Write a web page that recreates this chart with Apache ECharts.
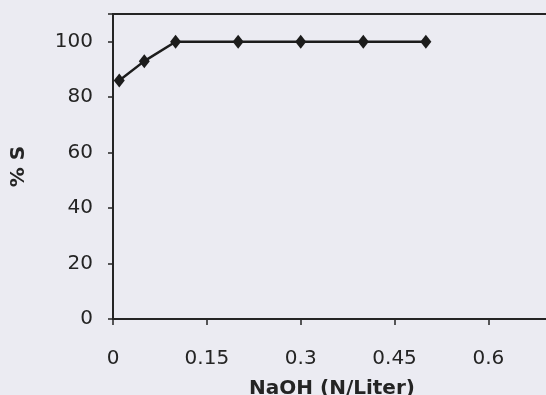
<!DOCTYPE html>
<html>
<head>
<meta charset="utf-8">
<title>NaOH stripping</title>
<script src="https://cdn.jsdelivr.net/npm/echarts@6/dist/echarts.min.js"></script>
<style>
  html, body { margin: 0; padding: 0; background: #ebebf2; }
  #chart { width: 546px; height: 395px; }
</style>
</head>
<body>
<div id="chart"></div>
<script>
// NaOH concentration (N/Liter) and stripping percentage
const naoh = [0.01, 0.05, 0.1, 0.2, 0.3, 0.4, 0.5];
const stripping = [86, 93, 100, 100, 100, 100, 100];

// Tick labels shown on each axis
const xTickLabels = ['0', '0.15', '0.3', '0.45', '0.6'];
const xTickValues = [0, 0.15, 0.3, 0.45, 0.6];
const yTickLabels = ['0', '20', '40', '60', '80', '100'];
const yTickValues = [0, 20, 40, 60, 80, 100];

const ink = '#242424';
const font = 'DejaVu Sans';

function labelFor(values, labels) {
  return function (v) {
    for (let i = 0; i < values.length; i++) {
      if (Math.abs(values[i] - v) < 1e-6) return labels[i];
    }
    return '';
  };
}

const chart = echarts.init(document.getElementById('chart'));
chart.setOption({
  backgroundColor: '#ebebf2',
  animation: false,
  // the plot frame runs on slightly past the right edge of the page
  grid: {
    left: 113, top: 14, width: 438, height: 305,
    outerBoundsMode: 'none', containLabel: false,
    show: true, borderColor: ink, borderWidth: 2, backgroundColor: 'transparent'
  },
  xAxis: {
    type: 'value', min: 0, max: 0.7, interval: 0.15,
    name: 'NaOH (N/Liter)', nameLocation: 'middle', nameGap: 60,
    nameTextStyle: { color: ink, fontFamily: font, fontWeight: 'bold', fontSize: 20 },
    splitLine: { show: false },
    axisLine: { show: true, lineStyle: { color: ink, width: 1.5 } },
    axisTick: { show: true, inside: false, length: 6, lineStyle: { color: ink, width: 1.5 } },
    axisLabel: { color: ink, fontFamily: font, fontSize: 20, margin: 30, formatter: labelFor(xTickValues, xTickLabels) }
  },
  yAxis: {
    type: 'value', min: 0, max: 110, interval: 20,
    name: '% S', nameLocation: 'middle', nameRotate: 90, nameGap: 84,
    nameTextStyle: { color: ink, fontFamily: font, fontWeight: 'bold', fontSize: 20 },
    splitLine: { show: false },
    axisLine: { show: true, lineStyle: { color: ink, width: 1.5 } },
    axisTick: { show: true, inside: false, length: 5, lineStyle: { color: ink, width: 1.5 } },
    axisLabel: { color: ink, fontFamily: font, fontSize: 20, margin: 20, formatter: labelFor(yTickValues, yTickLabels) }
  },
  series: [{
    type: 'line',
    data: naoh.map((x, i) => [x, stripping[i]]),
    symbol: 'diamond',
    symbolSize: [11, 14],
    itemStyle: { color: '#1c1c1c' },
    lineStyle: { color: '#1c1c1c', width: 2.5 },
    clip: false
  }]
});
</script>
</body>
</html>
